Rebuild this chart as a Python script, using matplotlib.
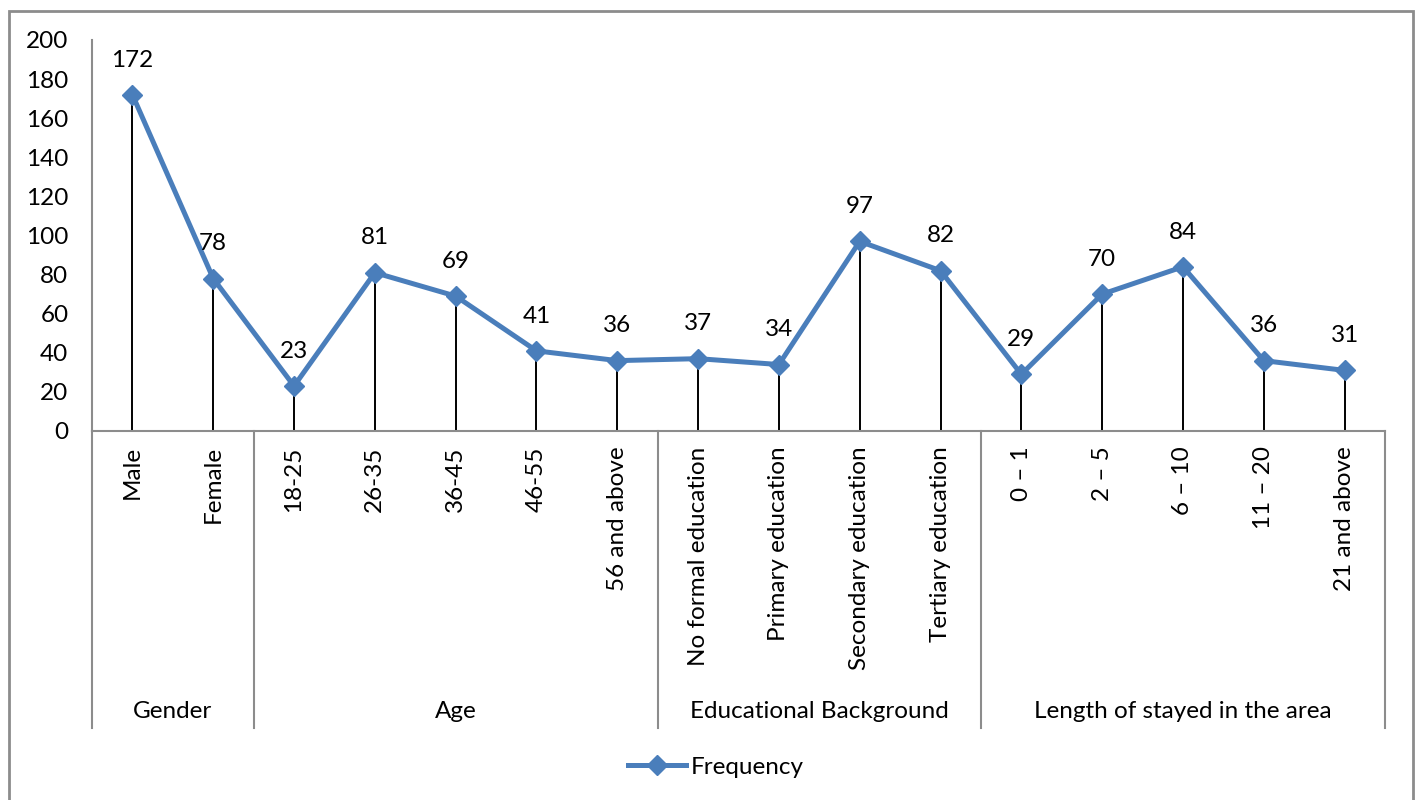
import matplotlib.pyplot as plt
from matplotlib.lines import Line2D
from matplotlib.patches import Rectangle

plt.rcParams["font.family"] = ["Lato", "DejaVu Sans"]

categories = [
    "Male", "Female",
    "18-25", "26-35", "36-45", "46-55", "56 and above",
    "No formal education", "Primary education", "Secondary education", "Tertiary education",
    "0 \u2013 1", "2 \u2013 5", "6 \u2013 10", "11 \u2013 20", "21 and above",
]
frequency = [172, 78, 23, 81, 69, 41, 36, 37, 34, 97, 82, 29, 70, 84, 36, 31]
groups = ["Gender", "Age", "Educational Background", "Length of stayed in the area"]
group_sizes = [2, 5, 4, 5]

line_color = "#4A7EBB"
axis_color = "#8C8C8C"
fs = 17.5

fig = plt.figure(figsize=(14.17, 8.0), dpi=100)
fig.patches.append(Rectangle((9 / 1417, -0.01), 1404 / 1417, 0.01 + 789 / 800,
                             transform=fig.transFigure, fill=False,
                             edgecolor=axis_color, linewidth=2))
ax = fig.add_axes([92 / 1417, 1 - 431 / 800, 1293 / 1417, 391 / 800])

x = list(range(len(categories)))
ax.vlines(x, 0, frequency, color="black", linewidth=1.4, zorder=2)
ax.plot(x, frequency, color=line_color, linewidth=3.6, marker="D",
        markersize=10.5, zorder=3)
for xi, v in zip(x, frequency):
    ax.annotate(str(v), (xi, v), xytext=(0, 25), textcoords="offset points",
                ha="center", va="center", fontsize=fs)

ax.set_xlim(-0.5, len(categories) - 0.5)
ax.set_ylim(0, 200)
ax.set_yticks(range(0, 201, 20))
ax.tick_params(axis="y", length=0, labelsize=fs, pad=17)
ax.set_xticks(x)
ax.set_xticklabels(categories, rotation=90, fontsize=fs, va="top")
ax.tick_params(axis="x", length=0, pad=11)
for side in ("top", "right"):
    ax.spines[side].set_visible(False)
for side in ("left", "bottom"):
    ax.spines[side].set_color(axis_color)
    ax.spines[side].set_linewidth(1.5)

# group separators and labels below the category labels
trans = ax.get_xaxis_transform()
sep_bottom = -(728 - 431) / 391
edges = [-0.5]
for n in group_sizes:
    edges.append(edges[-1] + n)
for e in edges:
    ax.plot([e, e], [0, sep_bottom], transform=trans, color=axis_color,
            linewidth=1.5, clip_on=False)
for name, lo, hi in zip(groups, edges[:-1], edges[1:]):
    ax.text((lo + hi) / 2, -(712 - 431) / 391, name, transform=trans,
            ha="center", va="center", fontsize=fs)

handle = Line2D([], [], color=line_color, linewidth=3.6, marker="D", markersize=10.5)
fig.legend([handle], ["Frequency"], loc="center", bbox_to_anchor=(716 / 1417, 1 - 767 / 800),
           frameon=False, fontsize=fs, handlelength=2.4, handletextpad=0.2)

fig.savefig("out.png", dpi=100)
